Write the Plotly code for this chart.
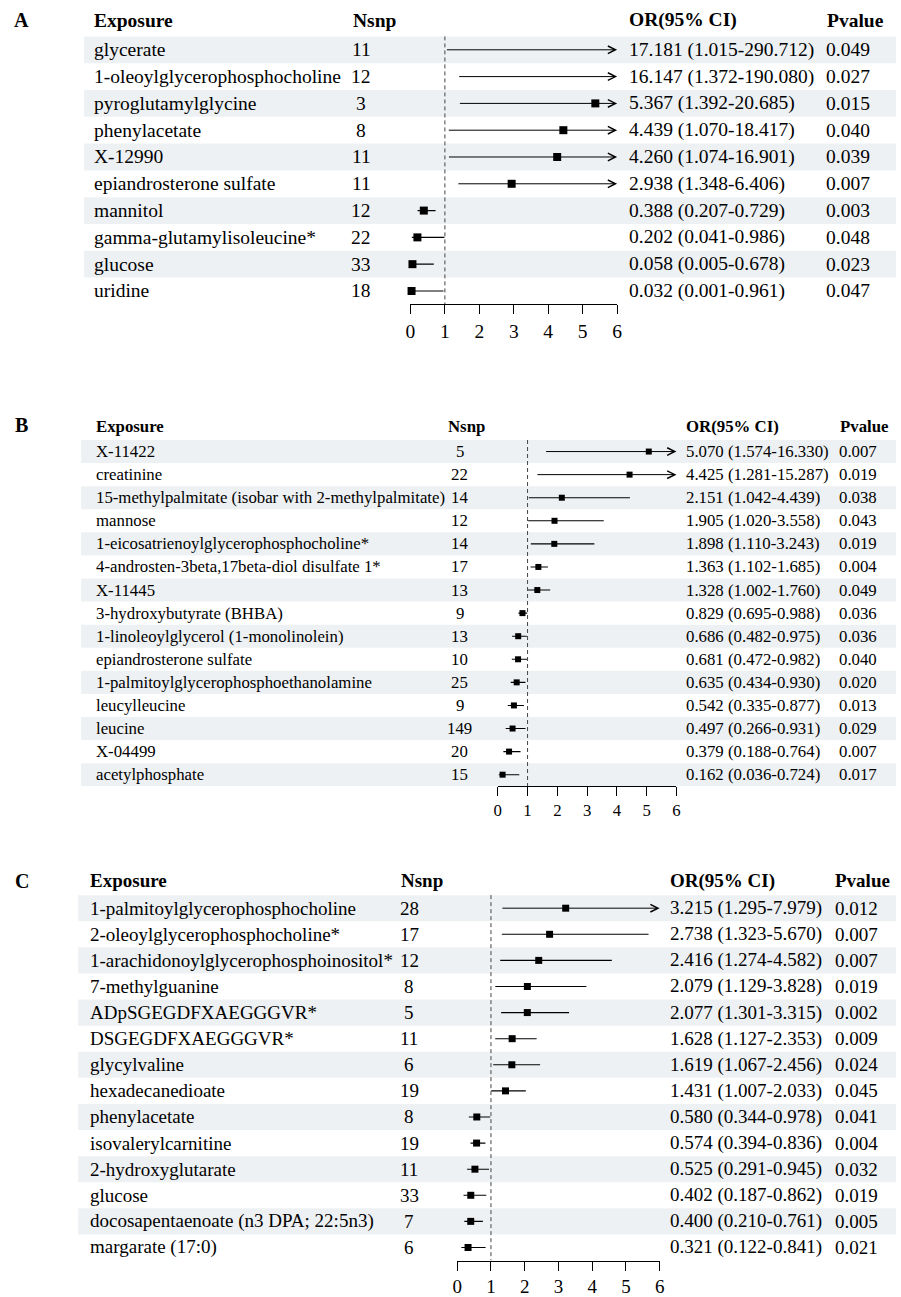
import plotly.graph_objects as go

W, H = 901, 1297
FONT = "Liberation Serif"

# ---------------- data ----------------
a_exposure = ["glycerate", "1-oleoylglycerophosphocholine", "pyroglutamylglycine", "phenylacetate",
              "X-12990", "epiandrosterone sulfate", "mannitol", "gamma-glutamylisoleucine*",
              "glucose", "uridine"]
a_nsnp = [11, 12, 3, 8, 11, 11, 12, 22, 33, 18]
a_or = [17.181, 16.147, 5.367, 4.439, 4.260, 2.938, 0.388, 0.202, 0.058, 0.032]
a_lo = [1.015, 1.372, 1.392, 1.070, 1.074, 1.348, 0.207, 0.041, 0.005, 0.001]
a_hi = [290.712, 190.080, 20.685, 18.417, 16.901, 6.406, 0.729, 0.986, 0.678, 0.961]
a_p = [0.049, 0.027, 0.015, 0.040, 0.039, 0.007, 0.003, 0.048, 0.023, 0.047]

b_exposure = ["X-11422", "creatinine", "15-methylpalmitate (isobar with 2-methylpalmitate)", "mannose",
              "1-eicosatrienoylglycerophosphocholine*", "4-androsten-3beta,17beta-diol disulfate 1*",
              "X-11445", "3-hydroxybutyrate (BHBA)", "1-linoleoylglycerol (1-monolinolein)",
              "epiandrosterone sulfate", "1-palmitoylglycerophosphoethanolamine", "leucylleucine",
              "leucine", "X-04499", "acetylphosphate"]
b_nsnp = [5, 22, 14, 12, 14, 17, 13, 9, 13, 10, 25, 9, 149, 20, 15]
b_or = [5.070, 4.425, 2.151, 1.905, 1.898, 1.363, 1.328, 0.829, 0.686, 0.681, 0.635, 0.542, 0.497, 0.379, 0.162]
b_lo = [1.574, 1.281, 1.042, 1.020, 1.110, 1.102, 1.002, 0.695, 0.482, 0.472, 0.434, 0.335, 0.266, 0.188, 0.036]
b_hi = [16.330, 15.287, 4.439, 3.558, 3.243, 1.685, 1.760, 0.988, 0.975, 0.982, 0.930, 0.877, 0.931, 0.764, 0.724]
b_p = [0.007, 0.019, 0.038, 0.043, 0.019, 0.004, 0.049, 0.036, 0.036, 0.040, 0.020, 0.013, 0.029, 0.007, 0.017]

c_exposure = ["1-palmitoylglycerophosphocholine", "2-oleoylglycerophosphocholine*",
              "1-arachidonoylglycerophosphoinositol*", "7-methylguanine", "ADpSGEGDFXAEGGGVR*",
              "DSGEGDFXAEGGGVR*", "glycylvaline", "hexadecanedioate", "phenylacetate",
              "isovalerylcarnitine", "2-hydroxyglutarate", "glucose",
              "docosapentaenoate (n3 DPA; 22:5n3)", "margarate (17:0)"]
c_nsnp = [28, 17, 12, 8, 5, 11, 6, 19, 8, 19, 11, 33, 7, 6]
c_or = [3.215, 2.738, 2.416, 2.079, 2.077, 1.628, 1.619, 1.431, 0.580, 0.574, 0.525, 0.402, 0.400, 0.321]
c_lo = [1.295, 1.323, 1.274, 1.129, 1.301, 1.127, 1.067, 1.007, 0.344, 0.394, 0.291, 0.187, 0.210, 0.122]
c_hi = [7.979, 5.670, 4.582, 3.828, 3.315, 2.353, 2.456, 2.033, 0.978, 0.836, 0.945, 0.862, 0.761, 0.841]
c_p = [0.012, 0.007, 0.007, 0.019, 0.002, 0.009, 0.024, 0.045, 0.041, 0.004, 0.032, 0.019, 0.005, 0.021]

x_ticks = [0, 1, 2, 3, 4, 5, 6]
x_max = 6
headers = ["Exposure", "Nsnp", "OR(95% CI)", "Pvalue"]
panel_letters = ["A", "B", "C"]

# ---------------- layout (pixel geometry) ----------------
panels = [
    dict(data=(a_exposure, a_nsnp, a_or, a_lo, a_hi, a_p), c0=50.0, pitch=26.9,
         xdom=(410, 619), band_x0=80, fs=19.5, ms=8, ly=20.5, hy=20.5,
         x_exp=88, x_nsnp=360, x_nsnp_h=350, x_or=629, x_p=828, x_p_h=829),
    dict(data=(b_exposure, b_nsnp, b_or, b_lo, b_hi, b_p), c0=453.3, pitch=23.17,
         xdom=(498.3, 679), band_x0=77, fs=16.8, ms=6, ly=427, hy=428.3,
         x_exp=90, x_nsnp=460, x_nsnp_h=446, x_or=686.5, x_p=841, x_p_h=842),
    dict(data=(c_exposure, c_nsnp, c_or, c_lo, c_hi, c_p), c0=911.7, pitch=26.2,
         xdom=(457.3, 662), band_x0=74, fs=19, ms=7, ly=884, hy=884,
         x_exp=84, x_nsnp=409, x_nsnp_h=398, x_or=670, x_p=837, x_p_h=837),
]


def px(x):
    return x / W


def py(y):
    return 1 - y / H


fig = go.Figure()
shapes = []
annotations = []
layout_axes = {}

for i, P in enumerate(panels):
    exp, nsnp, orv, lo, hi, pv = P["data"]
    n = len(exp)
    c0, pitch = P["c0"], P["pitch"]
    top_px = c0 - 1.5 * pitch
    bot_px = c0 + (n - 0.5) * pitch
    sfx = "" if i == 0 else str(i + 1)
    xname, yname = "x" + sfx, "y" + sfx
    fs = P["fs"]

    layout_axes["xaxis" + sfx] = dict(
        domain=[px(P["xdom"][0]), px(P["xdom"][1])], range=[0, x_max], anchor=yname,
        showline=True, linecolor="black", linewidth=1, ticks="outside", ticklen=9,
        tickwidth=1, tickcolor="black", tickvals=x_ticks, showgrid=False, zeroline=False,
        tickfont=dict(family=FONT, size=fs, color="black"), fixedrange=True)
    layout_axes["yaxis" + sfx] = dict(
        domain=[py(bot_px), py(top_px)], range=[n - 0.5, -1.5], anchor=xname,
        visible=False, fixedrange=True)

    # alternating bands
    for k in range(0, n, 2):
        shapes.append(dict(type="rect", xref="paper", yref=yname, x0=px(P["band_x0"]), x1=1,
                           y0=k - 0.5, y1=k + 0.5, fillcolor="#EEF1F3", line=dict(width=0),
                           layer="below"))
    # reference line at OR = 1
    shapes.append(dict(type="line", xref=xname, yref=yname, x0=1, x1=1, y0=-0.5, y1=n - 0.5,
                       line=dict(color="#444444", width=1, dash="4px,3px")))

    # CI segments (not clipped)
    lx, ly_ = [], []
    for k in range(n):
        if hi[k] <= x_max:
            lx += [lo[k], hi[k], None]
            ly_ += [k, k, None]
        else:
            annotations.append(dict(x=x_max, y=k, ax=lo[k], ay=k, xref=xname, yref=yname,
                                    axref=xname, ayref=yname, text="", showarrow=True,
                                    arrowhead=5, arrowsize=1.5, arrowwidth=1,
                                    arrowcolor="black", standoff=0, startstandoff=0))
    fig.add_trace(go.Scatter(x=lx, y=ly_, mode="lines", line=dict(color="black", width=1.1),
                             xaxis=xname, yaxis=yname, cliponaxis=False, hoverinfo="skip",
                             showlegend=False))
    mx = [orv[k] for k in range(n) if orv[k] <= x_max]
    my = [k for k in range(n) if orv[k] <= x_max]
    fig.add_trace(go.Scatter(x=mx, y=my, mode="markers",
                             marker=dict(symbol="square", size=P["ms"], color="black"),
                             xaxis=xname, yaxis=yname, cliponaxis=False, showlegend=False))

    tf = dict(family=FONT, size=fs, color="black")
    # row texts
    for k in range(n):
        annotations.append(dict(x=px(P["x_exp"]), y=k, xref="paper", yref=yname, text=exp[k],
                                xanchor="left", yanchor="middle", showarrow=False, font=tf))
        annotations.append(dict(x=px(P["x_nsnp"]), y=k, xref="paper", yref=yname, text=str(nsnp[k]),
                                xanchor="center", yanchor="middle", showarrow=False, font=tf))
        annotations.append(dict(x=px(P["x_or"]), y=k, xref="paper", yref=yname,
                                text=f"{orv[k]:.3f} ({lo[k]:.3f}-{hi[k]:.3f})",
                                xanchor="left", yanchor="middle", showarrow=False, font=tf))
        annotations.append(dict(x=px(P["x_p"]), y=k, xref="paper", yref=yname, text=f"{pv[k]:.3f}",
                                xanchor="left", yanchor="middle", showarrow=False, font=tf))
    # headers
    hx = [P["x_exp"], P["x_nsnp_h"], P["x_or"], P["x_p_h"]]
    for h, x in zip(headers, hx):
        annotations.append(dict(x=px(x), y=py(P["hy"]), xref="paper", yref="paper",
                                text=f"<b>{h}</b>", xanchor="left", yanchor="middle",
                                showarrow=False, font=tf))
    annotations.append(dict(x=px(17), y=py(P["ly"]), xref="paper", yref="paper",
                            text=f"<b>{panel_letters[i]}</b>", xanchor="center", yanchor="middle",
                            showarrow=False, font=dict(family=FONT, size=20, color="black")))

fig.update_layout(width=W, height=H, margin=dict(l=0, r=0, t=0, b=0),
                  paper_bgcolor="white", plot_bgcolor="rgba(0,0,0,0)",
                  showlegend=False, shapes=shapes, annotations=annotations, **layout_axes)

fig.write_html("out.html", config={"displayModeBar": False},
               post_script="document.body.style.margin='0';document.body.style.overflow='hidden';")
